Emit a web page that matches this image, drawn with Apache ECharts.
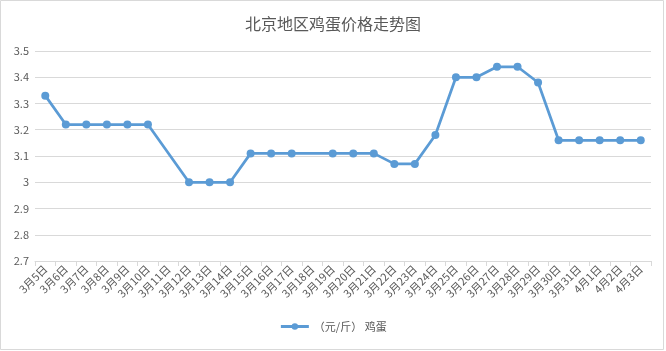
<!DOCTYPE html>
<html lang="zh">
<head>
  <meta charset="UTF-8">
  <title>北京地区鸡蛋价格走势图</title>
  <style>
    html,
    body {
      padding: 0;
      margin: 0;
      background: #fff;
    }
    #chart {
      width: 666px;
      height: 351px;
    }
  </style>
  <script src="https://cdn.jsdelivr.net/npm/echarts@6/dist/echarts.min.js"></script>
</head>
<body>
  <div id="chart"></div>
  <script>
    const dates = ['3月5日', '3月6日', '3月7日', '3月8日', '3月9日', '3月10日', '3月11日', '3月12日',
      '3月13日', '3月14日', '3月15日', '3月16日', '3月17日', '3月18日', '3月19日', '3月20日',
      '3月21日', '3月22日', '3月23日', '3月24日', '3月25日', '3月26日', '3月27日', '3月28日',
      '3月29日', '3月30日', '3月31日', '4月1日', '4月2日', '4月3日']
    // 3月11日、3月18日 没有数据
    const prices = [3.33, 3.22, 3.22, 3.22, 3.22, 3.22, null, 3.00,
      3.00, 3.00, 3.11, 3.11, 3.11, null, 3.11, 3.11,
      3.11, 3.07, 3.07, 3.18, 3.40, 3.40, 3.44, 3.44,
      3.38, 3.16, 3.16, 3.16, 3.16, 3.16]
    const seriesName = '（元/斤） 鸡蛋'

    const font = '"Noto Sans CJK SC", "Noto Sans", sans-serif'
    const chart = echarts.init(document.getElementById('chart'))
    const option = {
      animation: false,
      textStyle: { fontFamily: font },
      graphic: [{
        type: 'rect',
        shape: { x: 0.5, y: 0.5, width: 663, height: 349 },
        style: { fill: 'none', stroke: '#d9d9d9', lineWidth: 1 },
        silent: true
      }],
      title: {
        text: '北京地区鸡蛋价格走势图',
        left: 'center',
        top: 11,
        textStyle: {
          fontFamily: font,
          fontSize: 16,
          fontWeight: 'normal',
          color: '#595959'
        }
      },
      legend: {
        bottom: 14,
        left: 'center',
        itemWidth: 28,
        itemHeight: 8,
        lineStyle: { width: 3 },
        textStyle: { color: '#595959', fontSize: 11, fontFamily: font },
        data: [seriesName]
      },
      grid: {
        left: 35,
        right: 15,
        top: 51,
        bottom: 90
      },
      xAxis: {
        type: 'category',
        data: dates,
        boundaryGap: true,
        axisLine: { lineStyle: { color: '#d9d9d9' } },
        axisTick: { show: true, length: 5, lineStyle: { color: '#d9d9d9' } },
        axisLabel: {
          interval: 0,
          rotate: 45,
          margin: 6,
          color: '#595959',
          fontSize: 11,
          fontFamily: font
        }
      },
      yAxis: {
        type: 'value',
        min: 2.7,
        max: 3.5,
        interval: 0.1,
        axisLine: { show: false },
        axisTick: { show: false },
        splitLine: { lineStyle: { color: '#d9d9d9' } },
        axisLabel: {
          color: '#595959',
          fontSize: 11,
          margin: 6,
          fontFamily: font,
          formatter: v => String(Math.round(v * 10) / 10)
        }
      },
      series: [{
        name: seriesName,
        type: 'line',
        data: prices,
        connectNulls: true,
        symbol: 'circle',
        symbolSize: 8,
        lineStyle: { color: '#5b9bd5', width: 2.75 },
        itemStyle: { color: '#5b9bd5' }
      }]
    }
    chart.setOption(option)
  </script>
</body>
</html>
